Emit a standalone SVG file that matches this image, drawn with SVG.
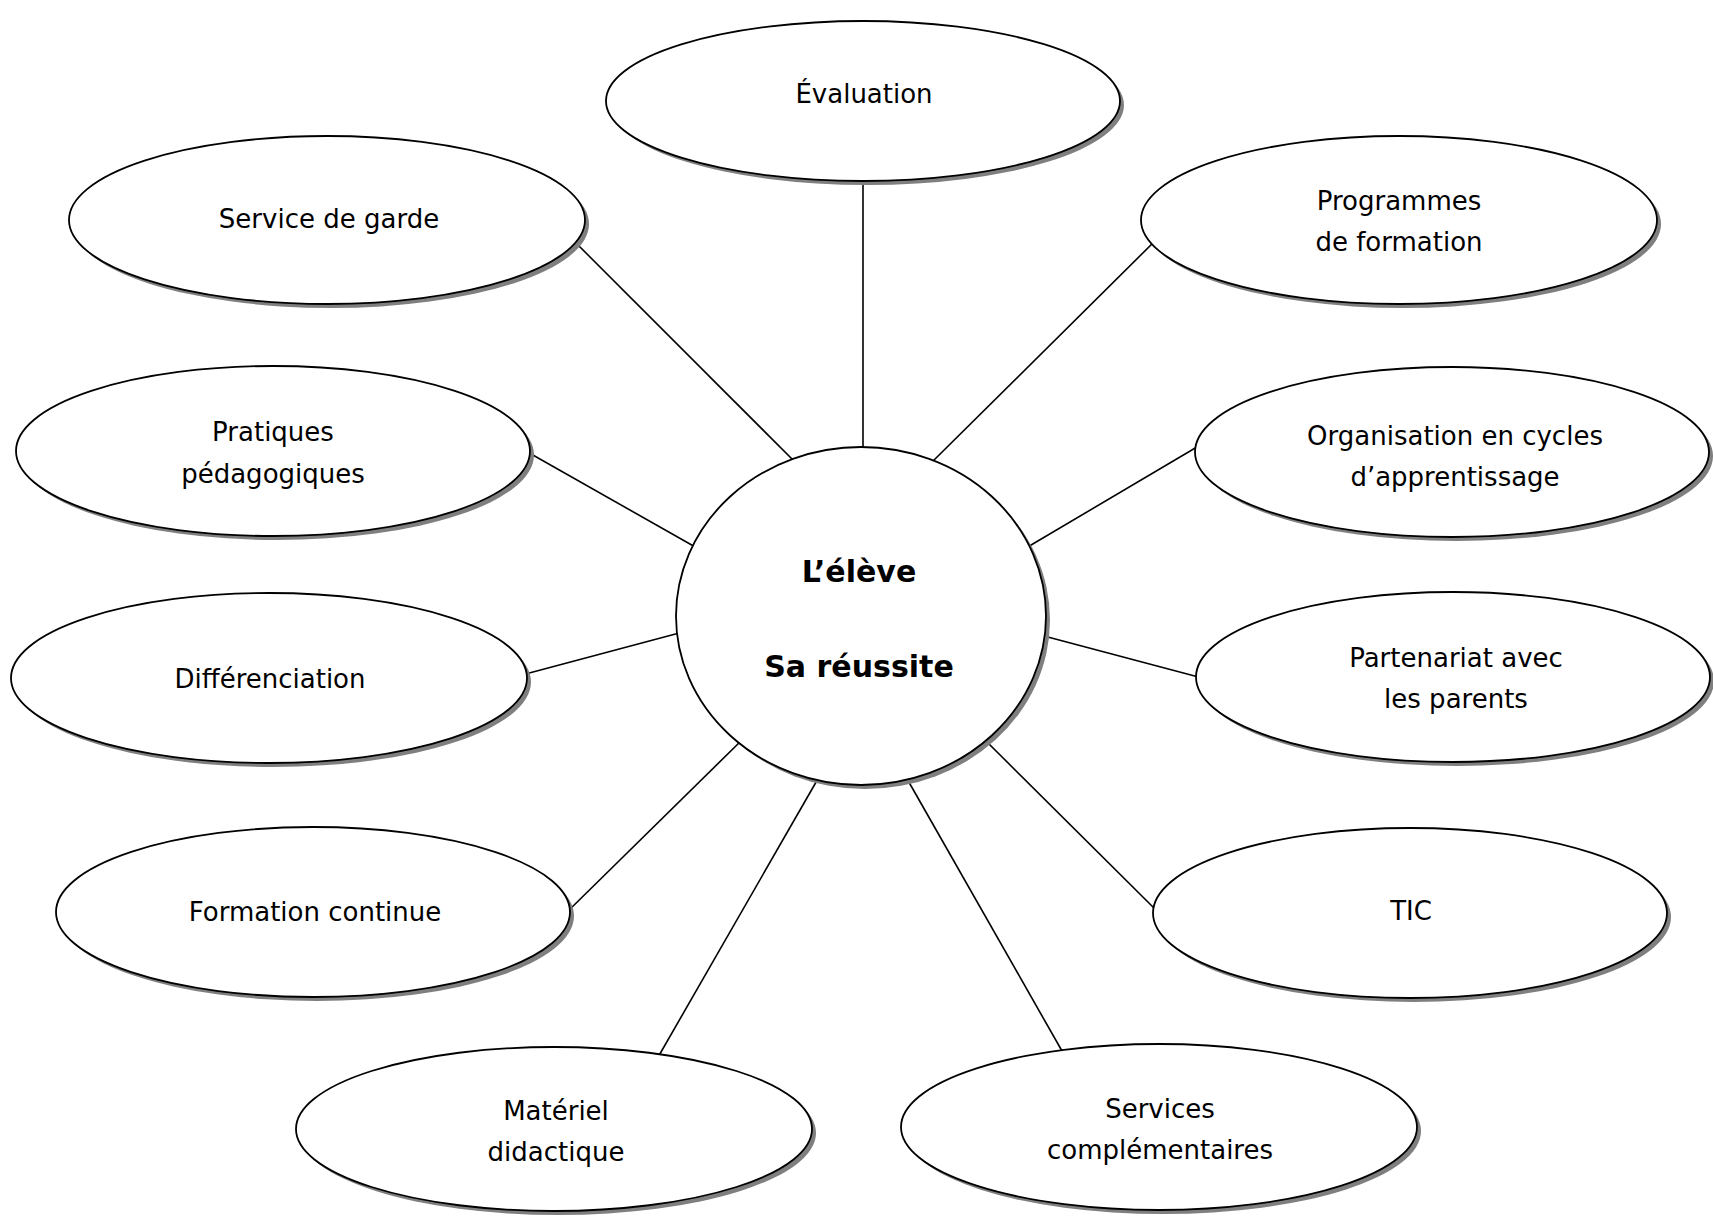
<svg xmlns="http://www.w3.org/2000/svg" width="1713" height="1216" viewBox="0 0 1713 1216">
  <style>
    .bg { fill: #ffffff; }
    .shadow { fill: #7f7f7f; }
    .shape { fill: #ffffff; stroke: #000000; stroke-width: 1.8; }
    .link { stroke: #000000; stroke-width: 1.6; fill: none; }
    .label { font-family: "Comic Sans MS", "DejaVu Sans", sans-serif; font-size: 26px; fill: #000000; text-anchor: middle; }
    .title { font-family: "Comic Sans MS", "DejaVu Sans", sans-serif; font-size: 30px; font-weight: bold; fill: #000000; text-anchor: middle; }
  </style>

  <rect class="bg" x="0" y="0" width="1713" height="1216"/>

  <!-- spokes from the centre to each surrounding topic (drawn first, ends hidden under the shapes) -->
  <g id="connectors">
    <line class="link" x1="863" y1="175" x2="863" y2="452"/>
    <line class="link" x1="572" y1="239" x2="797" y2="464"/>
    <line class="link" x1="1160" y1="236" x2="929" y2="465"/>
    <line class="link" x1="524" y1="450" x2="697" y2="548"/>
    <line class="link" x1="1202" y1="444" x2="1026" y2="548"/>
    <line class="link" x1="518" y1="676" x2="683" y2="632"/>
    <line class="link" x1="1206" y1="679" x2="1044" y2="636"/>
    <line class="link" x1="563" y1="916" x2="744" y2="738"/>
    <line class="link" x1="1160" y1="914" x2="985" y2="740"/>
    <line class="link" x1="657" y1="1059" x2="819" y2="777"/>
    <line class="link" x1="1066" y1="1058" x2="906" y2="777"/>
  </g>

  <g id="centre">
    <ellipse class="shadow" cx="865" cy="620" rx="185" ry="169"/>
    <ellipse class="shape" cx="861" cy="616" rx="185" ry="169"/>
    <text class="title" x="859" y="582">L’élève</text>
    <text class="title" x="859" y="677">Sa réussite</text>
  </g>

  <g id="evaluation">
    <ellipse class="shadow" cx="867" cy="105" rx="257" ry="80"/>
    <ellipse class="shape" cx="863" cy="101" rx="257" ry="80"/>
    <text class="label" x="864" y="103">Évaluation</text>
  </g>

  <g id="service-garde">
    <ellipse class="shadow" cx="331" cy="224" rx="258" ry="84"/>
    <ellipse class="shape" cx="327" cy="220" rx="258" ry="84"/>
    <text class="label" x="329" y="228">Service de garde</text>
  </g>

  <g id="programmes">
    <ellipse class="shadow" cx="1403" cy="224" rx="258" ry="84"/>
    <ellipse class="shape" cx="1399" cy="220" rx="258" ry="84"/>
    <text class="label" x="1399" y="210">Programmes</text>
    <text class="label" x="1399" y="251">de formation</text>
  </g>

  <g id="pratiques">
    <ellipse class="shadow" cx="277" cy="455" rx="257" ry="85"/>
    <ellipse class="shape" cx="273" cy="451" rx="257" ry="85"/>
    <text class="label" x="273" y="441">Pratiques</text>
    <text class="label" x="273" y="483">pédagogiques</text>
  </g>

  <g id="organisation">
    <ellipse class="shadow" cx="1456" cy="456" rx="257" ry="85"/>
    <ellipse class="shape" cx="1452" cy="452" rx="257" ry="85"/>
    <text class="label" x="1455" y="445">Organisation en cycles</text>
    <text class="label" x="1455" y="486">d’apprentissage</text>
  </g>

  <g id="differenciation">
    <ellipse class="shadow" cx="273" cy="682" rx="258" ry="85"/>
    <ellipse class="shape" cx="269" cy="678" rx="258" ry="85"/>
    <text class="label" x="270" y="688">Différenciation</text>
  </g>

  <g id="partenariat">
    <ellipse class="shadow" cx="1457" cy="681" rx="257" ry="85"/>
    <ellipse class="shape" cx="1453" cy="677" rx="257" ry="85"/>
    <text class="label" x="1456" y="667">Partenariat avec</text>
    <text class="label" x="1456" y="708">les parents</text>
  </g>

  <g id="formation-continue">
    <ellipse class="shadow" cx="317" cy="916" rx="257" ry="85"/>
    <ellipse class="shape" cx="313" cy="912" rx="257" ry="85"/>
    <text class="label" x="315" y="921">Formation continue</text>
  </g>

  <g id="tic">
    <ellipse class="shadow" cx="1414" cy="917" rx="257" ry="85"/>
    <ellipse class="shape" cx="1410" cy="913" rx="257" ry="85"/>
    <text class="label" x="1411" y="920">TIC</text>
  </g>

  <g id="materiel">
    <ellipse class="shadow" cx="558" cy="1133" rx="258" ry="82"/>
    <ellipse class="shape" cx="554" cy="1129" rx="258" ry="82"/>
    <text class="label" x="556" y="1120">Matériel</text>
    <text class="label" x="556" y="1161">didactique</text>
  </g>

  <g id="services-complementaires">
    <ellipse class="shadow" cx="1163" cy="1131" rx="258" ry="83"/>
    <ellipse class="shape" cx="1159" cy="1127" rx="258" ry="83"/>
    <text class="label" x="1160" y="1118">Services</text>
    <text class="label" x="1160" y="1159">complémentaires</text>
  </g>
</svg>
